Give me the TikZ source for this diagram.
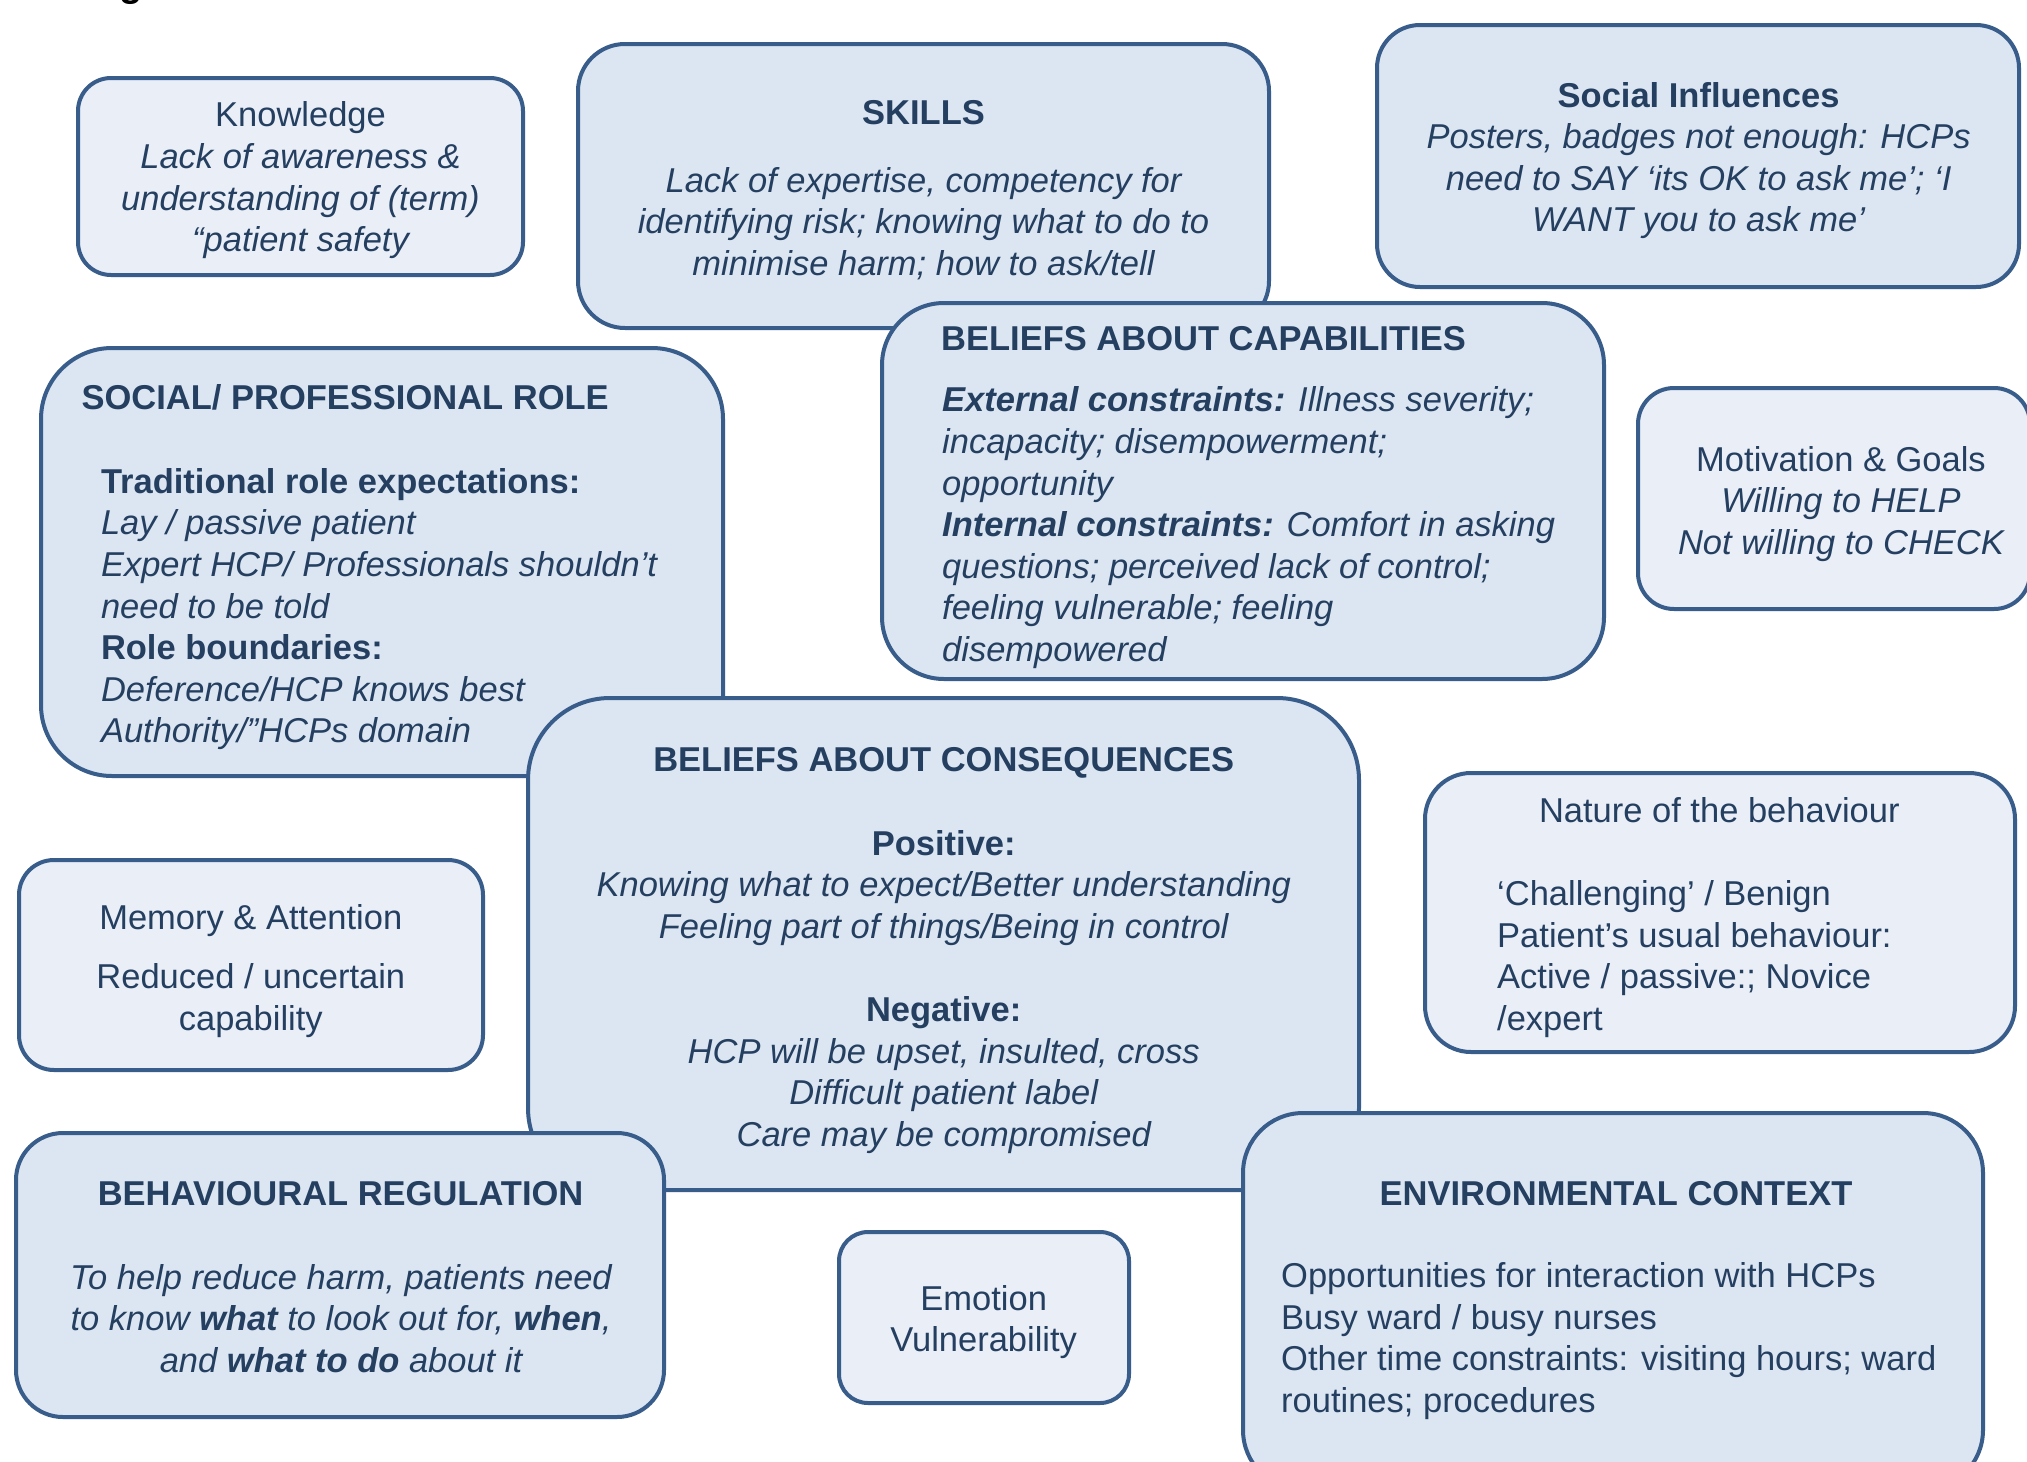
\documentclass[tikz,border=0pt]{standalone}
\usepackage{fontspec}
\setmainfont{Liberation Sans}
\definecolor{ink}{HTML}{243F60}
\definecolor{bord}{HTML}{385D8A}
\definecolor{fillA}{HTML}{DCE6F2}
\definecolor{fillB}{HTML}{E9EEF7}
\newcommand{\fsz}{\fontsize{34.5}{41.6}\selectfont}
\tikzset{
  boxA/.style={draw=bord, line width=4pt, fill=fillA, rectangle, inner sep=0pt, outer sep=0pt},
  boxB/.style={boxA, fill=fillB},
  txt/.style={text=ink, inner sep=0pt, font=\fsz},
  ctxt/.style={txt, align=center},
  cit/.style={ctxt, font=\fsz\itshape},
  ltxt/.style={txt, align=left, anchor=west},
  lit/.style={ltxt, font=\fsz\itshape},
  dn/.style={yshift=-3.6pt},
}
\begin{document}
\begin{tikzpicture}[x=1pt,y=-1pt]
\useasboundingbox (0,0) rectangle (2027,1462);
\clip (0,0) rectangle (2027,1462);
\fill[white] (0,0) rectangle (2027,1462);

% cut-off title fragment
\node[anchor=base west, inner sep=0pt, font=\fontsize{38}{40}\selectfont\bfseries, text=black] (titleFrag) at (119,-4) {g};

% Knowledge
\node[boxB, minimum width=445pt, minimum height=197pt, rounded corners=33pt] (knowB) at (300.5,176.5) {};
\node[ctxt, yshift=-2.6pt] (knowT) at (300.5,177.7) {Knowledge\\{\itshape Lack of awareness \&}\\{\itshape understanding of (term)}\\{\itshape “patient safety}};

% Skills
\node[boxA, minimum width=691pt, minimum height=284pt, rounded corners=47pt] (skillB) at (923.5,186) {};
\node[ctxt] (skillH) at (923.5,112.5) {\textbf{SKILLS}};
\node[cit, yshift=-2.6pt] (skillT) at (923.5,221) {Lack of expertise, competency for\\identifying risk; knowing what to do to\\minimise harm; how to ask/tell};

% Social influences
\node[boxA, minimum width=642pt, minimum height=262pt, rounded corners=43pt] (socB) at (1698,156) {};
\node[ctxt, dn] (socT) at (1698.6,157) {\textbf{Social Influences}\\{\itshape Posters, badges not enough: HCPs}\\{\itshape need to SAY ‘its OK to ask me’; ‘I}\\{\itshape WANT you to ask me’}};

% Social / professional role
\node[boxA, minimum width=682pt, minimum height=428pt, rounded corners=71pt] (roleB) at (382,562) {};
\node[ltxt] (roleH) at (81.4,397) {\textbf{SOCIAL/ PROFESSIONAL ROLE}};
\node[ltxt, dn] (roleT) at (100.8,605.6) {\textbf{Traditional role expectations:}\\{\itshape Lay / passive patient}\\{\itshape Expert HCP/ Professionals shouldn’t}\\{\itshape need to be told}\\\textbf{Role boundaries:}\\{\itshape Deference/HCP knows best}\\{\itshape Authority/”HCPs domain}};

% Beliefs about capabilities
\node[boxA, minimum width=722pt, minimum height=376pt, rounded corners=62pt] (capB) at (1243,491) {};
\node[ltxt] (capH) at (941,338.7) {\textbf{BELIEFS ABOUT CAPABILITIES}};
\node[lit, dn] (capT) at (942,524.2) {{\bfseries External constraints:} Illness severity;\\incapacity; disempowerment;\\opportunity\\{\bfseries Internal constraints:} Comfort in asking\\questions; perceived lack of control;\\feeling vulnerable; feeling\\disempowered};

% Motivation & goals
\node[boxB, minimum width=392pt, minimum height=221pt, rounded corners=36pt] (motB) at (1834,498.5) {};
\node[ctxt, dn] (motT) at (1841,500.3) {Motivation \& Goals\\{\itshape Willing to HELP}\\{\itshape Not willing to CHECK}};

% Beliefs about consequences
\node[boxA, minimum width=831pt, minimum height=492pt, rounded corners=82pt] (conB) at (943.5,944) {};
\node[ctxt, dn] (conH) at (943.7,758.8) {\textbf{BELIEFS ABOUT CONSEQUENCES}};
\node[ctxt, dn] (conT) at (943.7,988.3) {\textbf{Positive:}\\{\itshape Knowing what to expect/Better understanding}\\{\itshape Feeling part of things/Being in control}\\\mbox{}\\\textbf{Negative:}\\{\itshape HCP will be upset, insulted, cross}\\{\itshape Difficult patient label}\\{\itshape Care may be compromised}};

% Nature of the behaviour
\node[boxB, minimum width=590pt, minimum height=279pt, rounded corners=46pt] (natB) at (1720,912.5) {};
\node[ctxt] (natH) at (1719.3,810.5) {Nature of the behaviour};
\node[ltxt, dn] (natT) at (1497,955.3) {‘Challenging’ / Benign\\Patient’s usual behaviour:\\Active / passive:; Novice\\/expert};

% Memory & attention
\node[boxB, minimum width=464pt, minimum height=210pt, rounded corners=35pt] (memB) at (251,965) {};
\node[ctxt, dn] (memH) at (250.8,916.5) {Memory \& Attention};
\node[ctxt, dn] (memT) at (250.8,996.7) {Reduced / uncertain\\capability};

% Behavioural regulation
\node[boxA, minimum width=648pt, minimum height=284pt, rounded corners=47pt] (regB) at (340,1275) {};
\node[ctxt] (regH) at (340.6,1193.2) {\textbf{BEHAVIOURAL REGULATION}};
\node[cit] (regT) at (341,1318.6) {To help reduce harm, patients need\\to know {\bfseries what} to look out for, {\bfseries when},\\and {\bfseries what to do} about it};

% Emotion
\node[boxB, minimum width=290pt, minimum height=171pt, rounded corners=29pt] (emoB) at (984,1317.5) {};
\node[ctxt, dn] (emoT) at (983.7,1318.6) {Emotion\\Vulnerability};

% Environmental context
\node[boxA, minimum width=740pt, minimum height=377pt, rounded corners=60pt] (envB) at (1613,1301.5) {};
\node[ctxt, yshift=-1.3pt] (envH) at (1616,1191.9) {\textbf{ENVIRONMENTAL CONTEXT}};
\node[ltxt, dn] (envT) at (1281,1337.3) {Opportunities for interaction with HCPs\\Busy ward / busy nurses\\Other time constraints: visiting hours; ward\\routines; procedures};
\end{tikzpicture}
\end{document}
